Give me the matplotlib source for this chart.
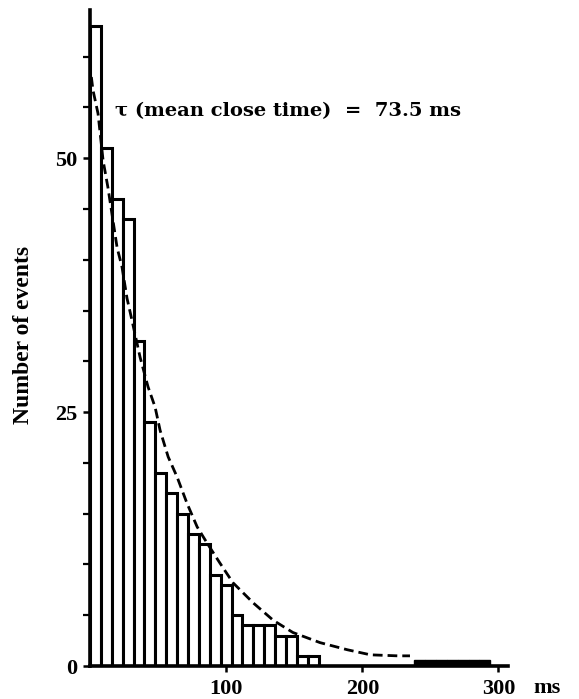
import numpy as np
import matplotlib.pyplot as plt
from matplotlib.ticker import MultipleLocator
import matplotlib.transforms as mtransforms

# histogram of close times, 8 ms bins
bin_width = 8
counts = [63, 51, 46, 44, 32, 24, 19, 17, 15, 13, 12, 9, 8, 5, 4, 4, 4, 3, 3, 1, 1]
bin_left = [i * bin_width for i in range(len(counts))]

# sparse tail near 240-295 ms (drawn as a thin dark strip)
tail_left = [238, 246, 254, 262, 270, 278, 286]
tail_counts = [0.6, 0.6, 0.6, 0.6, 0.6, 0.6, 0.6]

# dashed fitted curve
fit_t = [1, 2.2, 5.9, 9.6, 13.2, 19.9, 23.5, 27.2, 30.9, 36.8, 42.6, 47.8, 51.5,
         57.4, 64, 71.3, 78.7, 86, 95.6, 105, 120, 134.6, 149, 169, 189, 206, 226, 235]
fit_n = [58, 56.7, 54.4, 49.8, 47.1, 41.2, 39.3, 36.2, 34, 30.4, 27.5, 25.5, 23.2,
         20.6, 18.6, 16, 13.7, 12.1, 10.1, 8.2, 6.2, 4.5, 3.3, 2.3, 1.6, 1.1, 1.0, 1.0]

fig = plt.figure(figsize=(5.79, 6.99), dpi=100)
ax = fig.add_axes([90 / 579, 33 / 699, 418 / 579, 656 / 699])

ax.bar(bin_left, counts, width=bin_width, align='edge', facecolor='white',
       edgecolor='black', linewidth=2.2, zorder=2)
ax.bar(tail_left, tail_counts, width=8, align='edge', facecolor='black',
       edgecolor='black', linewidth=1.0, zorder=2)
ax.plot(fit_t, fit_n, color='black', linewidth=2.0, dashes=(3.5, 1.8), zorder=3)

ax.set_xlim(0, 307)
ax.set_ylim(0, 64.6)

for s in ['top', 'right']:
    ax.spines[s].set_visible(False)
for s in ['left', 'bottom']:
    ax.spines[s].set_linewidth(2.6)

serif = 'Liberation Serif'
ax.set_yticks([0, 25, 50])
ax.yaxis.set_minor_locator(MultipleLocator(5))
ax.set_xticks([100, 200, 300])
ax.tick_params(axis='y', which='major', length=5, width=1.8, pad=4)
ax.tick_params(axis='y', which='minor', length=5, width=1.6)
ax.tick_params(axis='x', which='major', length=4, width=1.8, pad=5)
for lab in ax.get_xticklabels() + ax.get_yticklabels():
    lab.set_fontfamily(serif)
    lab.set_fontweight('bold')
    lab.set_fontsize(16)

trans = mtransforms.blended_transform_factory(ax.transData, ax.transAxes)
ax.text(336, -0.0335, 'ms', transform=trans, ha='center', va='center',
        fontfamily=serif, fontweight='bold', fontsize=16)

ax.text(-0.158, 0.505, 'Number of events', transform=ax.transAxes, rotation=90,
        ha='center', va='center', fontfamily=serif, fontweight='bold', fontsize=17)

ax.text(18.4, 54.6, 'τ (mean close time)  =  73.5 ms', ha='left', va='center',
        fontfamily='DejaVu Serif', fontweight='bold', fontsize=14)

fig.savefig('out.png', dpi=100)
